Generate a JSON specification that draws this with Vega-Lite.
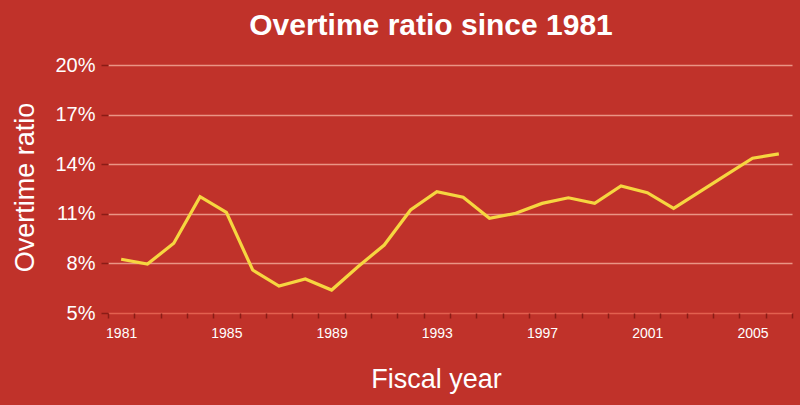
{
  "$schema": "https://vega.github.io/schema/vega-lite/v6.json",
  "width": 684,
  "height": 248,
  "autosize": {"type": "none"},
  "padding": {"left": 108, "top": 65, "right": 8, "bottom": 92},
  "background": "#C0322A",
  "title": {
    "text": "Overtime ratio since 1981",
    "fontSize": 30,
    "fontWeight": "bold",
    "font": "Liberation Sans",
    "color": "#FFFFFF",
    "anchor": "middle",
    "baseline": "alphabetic",
    "dx": -19,
    "offset": -10
  },
  "config": {
    "view": {"stroke": null},
    "font": "Liberation Sans"
  },
  "data": {
    "values": [
      {"year": 1981, "ratio": 8.25},
      {"year": 1982, "ratio": 7.96},
      {"year": 1983, "ratio": 9.22},
      {"year": 1984, "ratio": 12.04},
      {"year": 1985, "ratio": 11.09},
      {"year": 1986, "ratio": 7.6},
      {"year": 1987, "ratio": 6.63},
      {"year": 1988, "ratio": 7.06},
      {"year": 1989, "ratio": 6.39},
      {"year": 1990, "ratio": 7.8},
      {"year": 1991, "ratio": 9.11},
      {"year": 1992, "ratio": 11.23},
      {"year": 1993, "ratio": 12.34},
      {"year": 1994, "ratio": 12.0},
      {"year": 1995, "ratio": 10.73},
      {"year": 1996, "ratio": 11.03},
      {"year": 1997, "ratio": 11.63},
      {"year": 1998, "ratio": 11.97},
      {"year": 1999, "ratio": 11.63},
      {"year": 2000, "ratio": 12.68},
      {"year": 2001, "ratio": 12.28},
      {"year": 2002, "ratio": 11.33},
      {"year": 2003, "ratio": 12.34},
      {"year": 2004, "ratio": 13.35},
      {"year": 2005, "ratio": 14.36},
      {"year": 2006, "ratio": 14.62}
    ]
  },
  "mark": {"type": "line", "color": "#F6D640", "strokeWidth": 3.2, "strokeJoin": "miter"},
  "encoding": {
    "x": {
      "field": "year",
      "type": "quantitative",
      "scale": {"domain": [1980.5, 2006.5], "nice": false, "zero": false},
      "axis": {
        "title": "Fiscal year",
        "titleFontSize": 27,
        "titleFontWeight": "normal",
        "titleColor": "#FFFFFF",
        "titleX": 328,
        "titleY": 74,
        "titleAlign": "center",
        "titleBaseline": "alphabetic",
        "values": [1980.5, 1981.5, 1982.5, 1983.5, 1984.5, 1985.5, 1986.5, 1987.5, 1988.5, 1989.5, 1990.5, 1991.5, 1992.5, 1993.5, 1994.5, 1995.5, 1996.5, 1997.5, 1998.5, 1999.5, 2000.5, 2001.5, 2002.5, 2003.5, 2004.5, 2005.5, 2006.5],
        "labelExpr": "(datum.value - 1980.5) % 4 == 0 && datum.value < 2006 ? toString(datum.value + 0.5) : ''",
        "labelOffset": 13.15,
        "labelFontSize": 14,
        "labelColor": "#FFFFFF",
        "labelPadding": 8,
        "labelFlush": false,
        "labelOverlap": false,
        "labelBound": false,
        "domain": false,
        "grid": false,
        "ticks": true,
        "tickSize": 5,
        "tickWidth": 1.5,
        "tickColor": "#8A1C16"
      }
    },
    "y": {
      "field": "ratio",
      "type": "quantitative",
      "scale": {"domain": [5, 20], "nice": false, "zero": false},
      "axis": {
        "title": "Overtime ratio",
        "titleFontSize": 27,
        "titleFontWeight": "normal",
        "titleColor": "#FFFFFF",
        "titleX": -83,
        "titleY": 122,
        "titleAngle": -90,
        "titleAlign": "center",
        "titleBaseline": "middle",
        "values": [5, 8, 11, 14, 17, 20],
        "labelExpr": "datum.value + '%'",
        "labelFontSize": 20,
        "labelColor": "#FFFFFF",
        "labelPadding": 6,
        "domain": false,
        "grid": true,
        "gridColor": {"condition": {"test": "datum.value == 5", "value": "#E2604F"}, "value": "#EA9585"},
        "gridWidth": 1.5,
        "ticks": true,
        "tickSize": 7,
        "tickWidth": 1.5,
        "tickColor": "#8A1C16"
      }
    }
  }
}
